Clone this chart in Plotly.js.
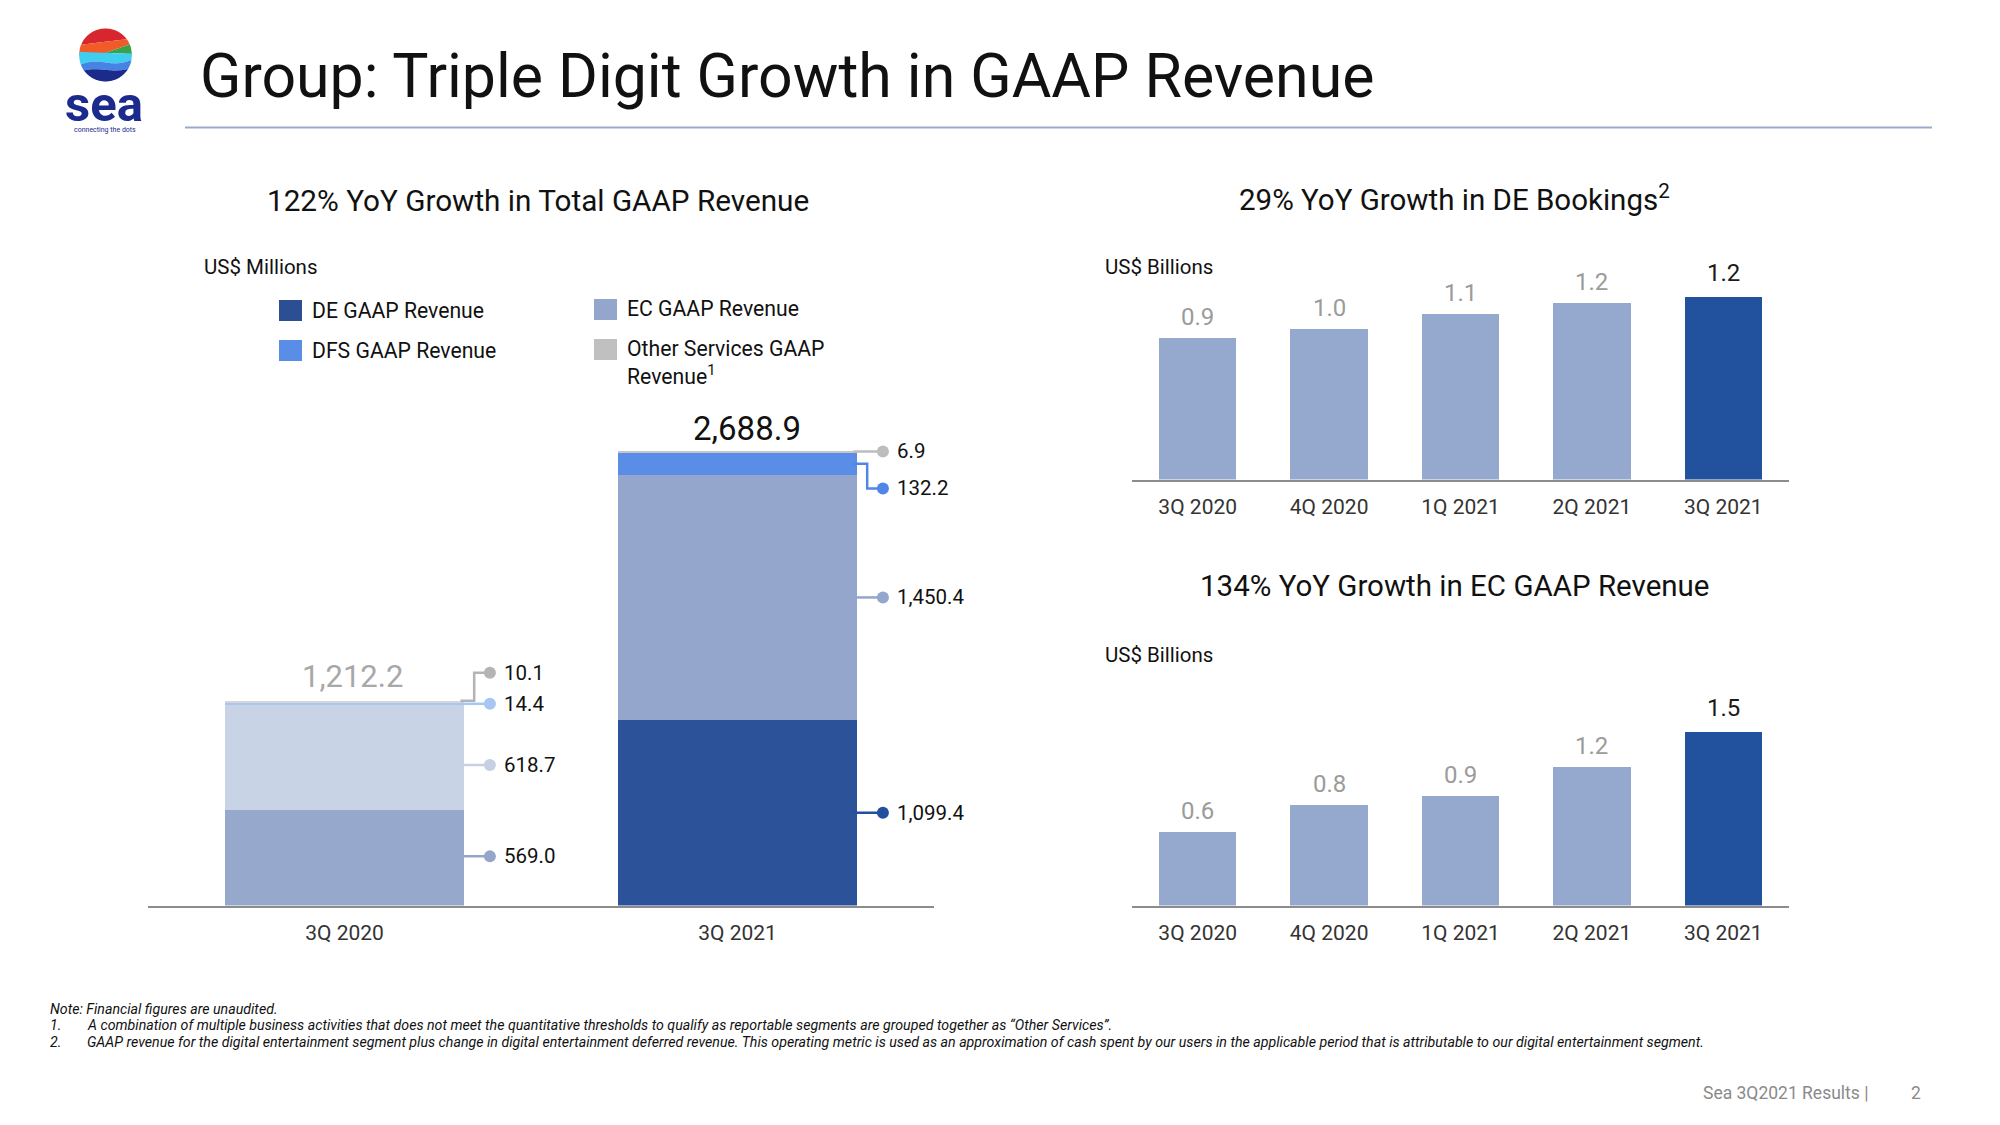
<!DOCTYPE html>
<html><head><meta charset="utf-8">
<script src="https://cdn.plot.ly/plotly-3.0.1.min.js"></script>
<style>html,body{margin:0;padding:0;background:#fff;overflow:hidden}#chart{width:2000px;height:1125px}</style>
</head><body><div id="chart"></div>
<script>
// ---------------- data ----------------
const gaapQuarters = ['3Q 2020', '3Q 2021'];
const deGaapRevenue = [569.0, 1099.4];
const ecGaapRevenue = [618.7, 1450.4];
const dfsGaapRevenue = [14.4, 132.2];
const otherGaapRevenue = [10.1, 6.9];
const gaapTotals = [1212.2, 2688.9];

const trendQuarters = ['3Q 2020', '4Q 2020', '1Q 2021', '2Q 2021', '3Q 2021'];
const deBookings = [0.94, 1.00, 1.10, 1.17, 1.21];
const ecRevenue = [0.6187, 0.8422, 0.9157, 1.1582, 1.4504];

const legendLabels = ['DE GAAP Revenue', 'DFS GAAP Revenue', 'EC GAAP Revenue', 'Other Services GAAP<br>Revenue<sup>1</sup>'];

// ---------------- styling ----------------
const FONT = 'Roboto, "Open Sans", Arial, sans-serif';
const W = 2000, H = 1125;
const px = x => x / W;
const py = y => 1 - y / H;

const barColors = {
  de: ['#96a9cc', '#2c5299'],
  ec: ['#c8d3e5', '#94a6cb'],
  dfs: ['#a9c6f2', '#5a8de6'],
  other: ['#d6d6d6', '#c6c6c6']
};
const dotColors = {
  de: ['#94a7cb', '#23509c'],
  ec: ['#c5d0e3', '#94a6cb'],
  dfs: ['#a6c6f4', '#4f86e8'],
  other: ['#b4b4b4', '#bdbdbd']
};
const legendColors = ['#2b4f92', '#5a8de6', '#94a6cb', '#c0c0c0'];
// label nudges in data units (layout only)
const nudge = { de: [7, 0], ec: [-46, 0], dfs: [0, -146], other: [166, 0] };

const fmt = v => v.toLocaleString('en-US', { minimumFractionDigits: 1, maximumFractionDigits: 1 });

const traces = [];
const xIdx = gaapQuarters.map((q, i) => i);
const stackSeries = [
  ['de', 'DE GAAP Revenue', deGaapRevenue],
  ['ec', 'EC GAAP Revenue', ecGaapRevenue],
  ['dfs', 'DFS GAAP Revenue', dfsGaapRevenue],
  ['other', 'Other Services GAAP Revenue', otherGaapRevenue]
];
stackSeries.forEach(([k, name, vals]) => {
  traces.push({
    type: 'bar', x: xIdx, y: vals, name: name,
    marker: { color: barColors[k], line: { width: 0 } },
    width: 0.61, xaxis: 'x', yaxis: 'y', showlegend: false, hoverinfo: 'skip'
  });
});

// connectors + dots
const halfW = 0.305, elbowOff = 0.33, dotOff = 0.37, textOff = 0.40;
const annotations = [];
gaapQuarters.forEach((q, i) => {
  const de = deGaapRevenue[i], ec = ecGaapRevenue[i], dfs = dfsGaapRevenue[i], oth = otherGaapRevenue[i];
  const tot = gaapTotals[i];
  const mids = { de: de / 2, ec: de + ec / 2, dfs: de + ec + dfs / 2, other: tot };
  const vals = { de: de, ec: ec, dfs: dfs, other: oth };
  const dotX = [], dotY = [], dotC = [];
  ['other', 'dfs', 'ec', 'de'].forEach(k => {
    const yL = mids[k] + nudge[k][i];
    let xs, ys;
    if (k === 'dfs' || k === 'other') {
      xs = [i + halfW - 0.01, i + elbowOff, i + elbowOff, i + dotOff];
      ys = [mids[k], mids[k], yL, yL];
    } else {
      xs = [i + halfW - 0.01, i + dotOff];
      ys = [yL, yL];
    }
    traces.push({
      type: 'scatter', mode: 'lines', x: xs, y: ys, xaxis: 'x', yaxis: 'y',
      line: { color: dotColors[k][i], width: 2.5 }, showlegend: false, hoverinfo: 'skip', cliponaxis: false
    });
    dotX.push(i + dotOff); dotY.push(yL); dotC.push(dotColors[k][i]);
    annotations.push({
      xref: 'x', yref: 'y', x: i + textOff, y: yL, text: fmt(vals[k]),
      showarrow: false, xanchor: 'left', yanchor: 'middle',
      font: { family: FONT, size: 20.5, color: '#111' }
    });
  });
  traces.push({
    type: 'scatter', mode: 'markers', x: dotX, y: dotY, xaxis: 'x', yaxis: 'y',
    marker: { size: 12, color: dotC, line: { width: 0 } }, showlegend: false, hoverinfo: 'skip', cliponaxis: false
  });
  const isLast = i === gaapTotals.length - 1;
  annotations.push({
    xref: 'x', yref: 'y', x: i + (isLast ? 0.025 : 0.02), y: tot, text: fmt(tot), showarrow: false,
    xanchor: 'center', yanchor: 'bottom', yshift: isLast ? 1 : 4,
    font: { family: FONT, size: isLast ? 33 : 31, color: isLast ? '#111' : '#a8a8a8' }
  });
});

// right charts
const lastIdx = trendQuarters.length - 1;
const trendColors = trendQuarters.map((q, i) => i === lastIdx ? '#22519d' : '#95a9cf');
traces.push({
  type: 'bar', x: trendQuarters, y: deBookings, xaxis: 'x2', yaxis: 'y2', width: 0.59,
  marker: { color: trendColors }, showlegend: false, hoverinfo: 'skip'
});
traces.push({
  type: 'bar', x: trendQuarters, y: ecRevenue, xaxis: 'x3', yaxis: 'y3', width: 0.59,
  marker: { color: trendColors }, showlegend: false, hoverinfo: 'skip'
});
[[deBookings, 'x2', 'y2'], [ecRevenue, 'x3', 'y3']].forEach(([vals, xa, ya]) => {
  vals.forEach((v, i) => {
    annotations.push({
      xref: xa, yref: ya, x: trendQuarters[i], y: v, text: v.toFixed(1), showarrow: false,
      xanchor: 'center', yanchor: 'bottom', yshift: i === lastIdx ? 8 : 5,
      font: { family: FONT, size: 24, color: i === lastIdx ? '#1a1a1a' : '#9b9b9b' }
    });
  });
});

// text annotations in paper coords
function txt(x, y, text, size, opts) {
  return Object.assign({
    xref: 'paper', yref: 'paper', x: px(x), y: py(y), text: text, showarrow: false,
    xanchor: 'left', yanchor: 'middle', font: { family: FONT, size: size, color: '#111' }
  }, opts || {});
}
annotations.push(txt(198, 77, 'Group: Triple Digit Growth in GAAP Revenue', 60.8));
annotations.push(txt(538, 201, '122% YoY Growth in Total GAAP Revenue', 29.7, { xanchor: 'center' }));
annotations.push(txt(1454, 198, '29% YoY Growth in DE Bookings<sup>2</sup>', 29.5, { xanchor: 'center' }));
annotations.push(txt(1454, 586, '134% YoY Growth in EC GAAP Revenue', 29.5, { xanchor: 'center' }));
annotations.push(txt(202, 267, 'US$ Millions', 20.5));
annotations.push(txt(1103, 267, 'US$ Billions', 20.5));
annotations.push(txt(1103, 655, 'US$ Billions', 20.5));

// legend
const legendPos = [[279, 310], [279, 350], [594, 309], [594, 349]];
const shapes = [];
legendLabels.forEach((lab, i) => {
  const [lx, ly] = legendPos[i];
  shapes.push({ type: 'rect', xref: 'paper', yref: 'paper', x0: px(lx), x1: px(lx + 23), y0: py(ly - 10), y1: py(ly + 11),
    fillcolor: legendColors[i], line: { width: 0 } });
  if (i === 3) {
    annotations.push(txt(lx + 31, ly - 2, lab, 21.2, { yanchor: 'top', yshift: 13, align: 'left' }));
  } else {
    annotations.push(txt(lx + 31, ly, lab, 21.2));
  }
});

// footnotes
annotations.push(txt(48, 1009, '<i>Note: Financial figures are unaudited.</i>', 14.2));
annotations.push(txt(48, 1025, '<i>1.</i>', 14.2));
annotations.push(txt(85, 1025, '<i>A combination of multiple business activities that does not meet the quantitative thresholds to qualify as reportable segments are grouped together as “Other Services”.</i>', 14.2));
annotations.push(txt(48, 1042, '<i>2.</i>', 14.2));
annotations.push(txt(85, 1042, '<i>GAAP revenue for the digital entertainment segment plus change in digital entertainment deferred revenue. This operating metric is used as an approximation of cash spent by our users in the applicable period that is attributable to our digital entertainment segment.</i>', 14.2));
annotations.push(txt(1870, 1093, 'Sea 3Q2021 Results |', 17.5, { xanchor: 'right', font: { family: FONT, size: 17.5, color: '#8a8a8a' } }));
annotations.push(txt(1916, 1093, '2', 17.5, { xanchor: 'center', font: { family: FONT, size: 17.5, color: '#8a8a8a' } }));

// header rule
shapes.push({ type: 'line', xref: 'paper', yref: 'paper', x0: px(185), x1: px(1932), y0: py(127.5), y1: py(127.5),
  line: { color: '#9aabc9', width: 2 } });

// logo (decorative)
(function logo() {
  const cx = 105.5, cy = 55, r = 26.5, N = 60;
  const circ = u => Math.sqrt(Math.max(0, 1 - u * u));
  const b1 = u => -0.5 - 0.12 * u;
  const b2 = u => (u < 0 ? -0.08 : -0.08 - 0.35 * u);
  const b3 = u => -0.08 + 0.04 * u;
  const b4 = u => 0.28 - 0.1 * u + 0.08 * Math.sin(Math.PI * u);
  const b5 = u => 0.56 - 0.06 * u + 0.05 * Math.sin(Math.PI * u);
  const bands = [
    { col: '#d8262e', top: u => -2, bot: b1 },
    { col: '#f15a29', top: b1, bot: b2 },
    { col: '#37a34a', top: b2, bot: b3 },
    { col: '#3fcdf0', top: b3, bot: b4 },
    { col: '#4583e4', top: b4, bot: b5 },
    { col: '#1c2a8c', top: b5, bot: u => 2 }
  ];
  bands.forEach(b => {
    const upper = [], lower = [];
    for (let k = 0; k <= N; k++) {
      const u = -1 + 2 * k / N;
      const c = circ(u);
      const t = Math.min(Math.max(b.top(u), -c), c);
      const bo = Math.min(Math.max(b.bot(u), -c), c);
      upper.push([u, t]);
      lower.push([u, Math.max(bo, t)]);
    }
    const pts = upper.concat(lower.reverse());
    const path = pts.map((p, j) => (j ? 'L' : 'M') + px(cx + p[0] * r).toFixed(5) + ',' + py(cy + p[1] * r).toFixed(5)).join(' ') + ' Z';
    shapes.push({ type: 'path', xref: 'paper', yref: 'paper', path: path, fillcolor: b.col, line: { width: 0 } });
  });
  annotations.push(txt(104, 104, '<b>sea</b>', 49, { xanchor: 'center', font: { family: FONT, size: 49, color: '#1b2a8c' } }));
  annotations.push(txt(105, 130, 'connecting the dots', 7, { xanchor: 'center', font: { family: FONT, size: 7, color: '#1b2a8c' } }));
})();

const xCommon = {
  showgrid: false, zeroline: false, showline: true, linecolor: '#8c8c8c', linewidth: 2,
  ticks: 'outside', ticklen: 7, tickcolor: 'rgba(0,0,0,0)', fixedrange: true,
  tickfont: { family: FONT, size: 21, color: '#333' }
};
const yCommon = { visible: false, showgrid: false, zeroline: false, fixedrange: true };

const layout = {
  width: W, height: H, margin: { l: 0, r: 0, t: 0, b: 0 },
  paper_bgcolor: '#fff', plot_bgcolor: 'rgba(0,0,0,0)',
  barmode: 'stack', showlegend: false,
  font: { family: FONT },
  xaxis: Object.assign({}, xCommon, { type: 'linear', domain: [px(148), px(934)], range: [-0.5, 1.5], anchor: 'y',
    tickmode: 'array', tickvals: xIdx, ticktext: gaapQuarters }),
  yaxis: Object.assign({}, yCommon, { domain: [py(905.6), py(380)], range: [0, 3112], anchor: 'x' }),
  xaxis2: Object.assign({}, xCommon, { type: 'category', domain: [px(1132), px(1789)], range: [-0.5, 4.5], anchor: 'y2' }),
  yaxis2: Object.assign({}, yCommon, { domain: [py(479.6), py(250)], range: [0, 1.5236], anchor: 'x2' }),
  xaxis3: Object.assign({}, xCommon, { type: 'category', domain: [px(1132), px(1789)], range: [-0.5, 4.5], anchor: 'y3' }),
  yaxis3: Object.assign({}, yCommon, { domain: [py(905.6), py(680)], range: [0, 1.886], anchor: 'x3' }),
  annotations: annotations, shapes: shapes
};

Plotly.newPlot('chart', traces, layout, { staticPlot: true, displayModeBar: false });
</script>
</body></html>
